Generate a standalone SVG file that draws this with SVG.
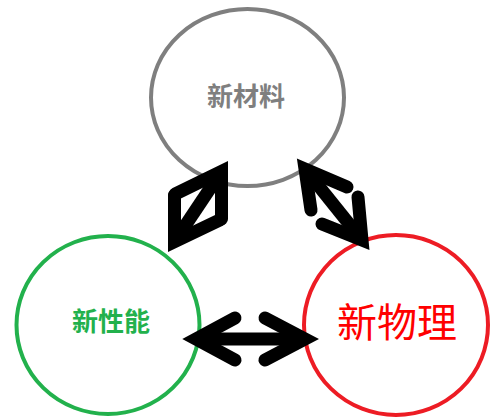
<svg xmlns="http://www.w3.org/2000/svg" width="491" height="419" viewBox="0 0 491 419">
<style>
.node ellipse{fill:none;stroke-width:4}
.lbl{font-family:"Noto Sans CJK SC","Noto Sans",sans-serif;text-anchor:middle}
.b{font-weight:bold;font-size:26px}
.arr{fill:none;stroke:#000;stroke-width:13;stroke-linejoin:miter;stroke-miterlimit:6;stroke-linecap:round}
.shaft{fill:none;stroke:#000;stroke-width:13;stroke-linecap:butt}
</style>
<rect width="491" height="419" fill="#fff"/>
<g id="node-materials" class="node">
<ellipse cx="247.5" cy="97.5" rx="96.5" ry="88.5" stroke="#7f7f7f"/>
<text class="lbl b" x="246" y="106" fill="#7f7f7f">新材料</text>
</g>
<g id="node-performance" class="node">
<ellipse cx="108" cy="325" rx="91.5" ry="89" stroke="#22b14c"/>
<text class="lbl b" x="111" y="331" fill="#22b14c">新性能</text>
</g>
<g id="node-physics" class="node">
<ellipse cx="396" cy="325" rx="92" ry="90" stroke="#ed1c24"/>
<text class="lbl" x="397" y="337" font-size="40" fill="#ff0000">新物理</text>
</g>
<g id="connectors">
<path class="arr" d="M221.5,219 L221.5,171.4 L175.5,193.9"/>
<path class="arr" d="M174.5,195 L174.5,241.7 L220,219.8"/>
<path class="shaft" d="M174.5,241.7 L221.5,171.4"/>
<path class="arr" d="M347,187 L305,169 L311,210"/>
<path class="arr" d="M358,197 L362,240 L322,224"/>
<path class="shaft" d="M305,169 L362,240"/>
<path class="arr" d="M235,318 L196,339 L235,360"/>
<path class="arr" d="M265,318 L305,339 L265,360"/>
<path class="shaft" d="M196,339 L305,339"/>
</g>
</svg>
